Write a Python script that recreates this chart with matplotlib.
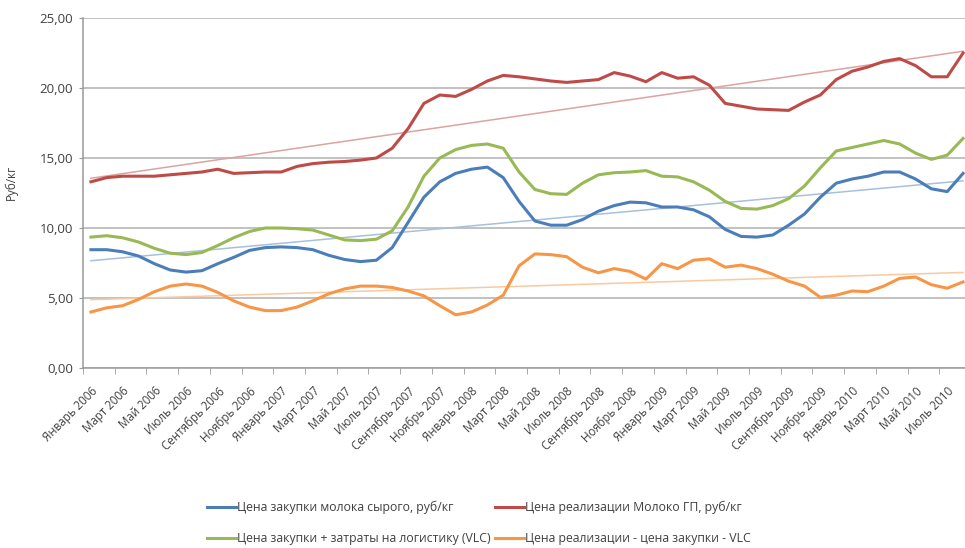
import numpy as np
import matplotlib
matplotlib.use("Agg")
import matplotlib.pyplot as plt
from matplotlib.ticker import FixedLocator, FuncFormatter

plt.rcParams["font.family"] = ["Open Sans", "DejaVu Sans"]

# monthly data, Jan 2006 .. Aug 2010
month_names = ["Январь", "Февраль", "Март", "Апрель", "Май", "Июнь",
               "Июль", "Август", "Сентябрь", "Октябрь", "Ноябрь", "Декабрь"]
months = [f"{month_names[m]} {2006 + y}" for y in range(5) for m in range(12)][:56]

raw_price = [8.45, 8.45, 8.3, 8.0, 7.45, 7.0, 6.85, 6.95, 7.45, 7.9, 8.4, 8.6,
             8.65, 8.6, 8.45, 8.05, 7.75, 7.6, 7.7, 8.6, 10.4, 12.2, 13.3, 13.9,
             14.2, 14.35, 13.6, 11.9, 10.5, 10.2, 10.2, 10.6, 11.2, 11.6, 11.85, 11.8,
             11.5, 11.5, 11.3, 10.8, 9.9, 9.4, 9.35, 9.5, 10.2, 11.0, 12.2, 13.2,
             13.5, 13.7, 14.0, 14.0, 13.5, 12.8, 12.6, 13.9]
sale_price = [13.3, 13.6, 13.7, 13.7, 13.7, 13.8, 13.9, 14.0, 14.2, 13.9, 13.95, 14.0,
              14.0, 14.4, 14.6, 14.7, 14.75, 14.85, 15.0, 15.7, 17.1, 18.9, 19.5, 19.4,
              19.9, 20.5, 20.9, 20.8, 20.65, 20.5, 20.4, 20.5, 20.6, 21.1, 20.85, 20.45,
              21.1, 20.7, 20.8, 20.2, 18.9, 18.7, 18.5, 18.45, 18.4, 19.0, 19.5, 20.6,
              21.2, 21.5, 21.9, 22.1, 21.6, 20.8, 20.8, 22.5]
price_vlc = [9.35, 9.45, 9.3, 9.0, 8.55, 8.2, 8.1, 8.25, 8.75, 9.3, 9.75, 10.0,
             10.0, 9.95, 9.85, 9.5, 9.15, 9.1, 9.2, 9.8, 11.5, 13.7, 15.0, 15.6,
             15.9, 16.0, 15.7, 14.0, 12.75, 12.45, 12.4, 13.2, 13.8, 13.95, 14.0, 14.1,
             13.7, 13.65, 13.3, 12.7, 11.9, 11.4, 11.35, 11.6, 12.1, 13.0, 14.3, 15.5,
             15.75, 16.0, 16.25, 16.0, 15.35, 14.9, 15.2, 16.4]
margin = [4.0, 4.3, 4.45, 4.9, 5.45, 5.85, 6.0, 5.85, 5.4, 4.8, 4.35, 4.1,
          4.1, 4.35, 4.8, 5.3, 5.65, 5.85, 5.85, 5.75, 5.5, 5.15, 4.45, 3.8,
          4.0, 4.5, 5.2, 7.3, 8.15, 8.1, 7.95, 7.2, 6.8, 7.1, 6.9, 6.35,
          7.45, 7.1, 7.7, 7.8, 7.2, 7.35, 7.1, 6.7, 6.2, 5.85, 5.05, 5.2,
          5.5, 5.45, 5.85, 6.4, 6.5, 5.95, 5.7, 6.15]

series = [
    ("Цена закупки молока сырого, руб/кг", raw_price, "#4A7EBB", "#A7C0DE"),
    ("Цена закупки + затраты на логистику (VLC)", price_vlc, "#98B954", None),
    ("Цена реализации Молоко ГП, руб/кг", sale_price, "#BE4B48", "#DCA3A2"),
    ("Цена реализации - цена закупки - VLC", margin, "#F79646", "#FBC8A0"),
]

fig = plt.figure(figsize=(9.65, 5.48), dpi=100)
ax = fig.add_axes([83 / 965, 1 - 368 / 548, 888 / 965, 350 / 548])

x = np.arange(len(months))
handles = []
for label, values, color, trend_color in series:
    (line,) = ax.plot(x, values, color=color, linewidth=2.2, label=label, zorder=3)
    handles.append(line)
    if trend_color:
        # linear trend, as in the source spreadsheet
        k, b = np.polyfit(x, values, 1)
        ax.plot(x, k * x + b, color=trend_color, linewidth=1.1, zorder=2)

ax.set_xlim(-0.5, len(months) - 0.5)
ax.set_ylim(0, 25)
ax.set_yticks(np.arange(0, 26, 5))
ax.yaxis.set_major_formatter(FuncFormatter(lambda v, _: f"{v:.2f}".replace(".", ",")))
ax.grid(axis="y", color="#B0B0B0", linewidth=1.1)
ax.set_axisbelow(True)

ax.set_xticks(x[::2])
ax.set_xticklabels(months[::2], rotation=45, ha="right", rotation_mode="anchor", fontsize=8.3, color="#404040")
ax.xaxis.set_minor_locator(FixedLocator(np.arange(-0.5, len(months), 2)))
ax.tick_params(axis="x", which="major", length=0, pad=12)
ax.tick_params(axis="x", which="minor", length=4, color="#9A9A9A")
ax.tick_params(axis="y", length=3, color="#9A9A9A", labelsize=9.5, labelcolor="#404040", pad=4)

for side in ("top", "right"):
    ax.spines[side].set_visible(False)
for side in ("left", "bottom"):
    ax.spines[side].set_color("#9A9A9A")
    ax.spines[side].set_linewidth(1.1)

ax.set_ylabel("Руб/кг", fontsize=8.5, color="#404040")
ax.yaxis.set_label_coords(-(83 - 18) / 888, 0.53)

fig.legend(handles=handles, loc="center", bbox_to_anchor=(479 / 965, 1 - 523 / 548), ncol=2,
           frameon=False, fontsize=8.8, handlelength=2.4, handletextpad=0.1,
           columnspacing=0.3, labelspacing=1.45, labelcolor="#404040")

fig.savefig("out.png", dpi=100)
